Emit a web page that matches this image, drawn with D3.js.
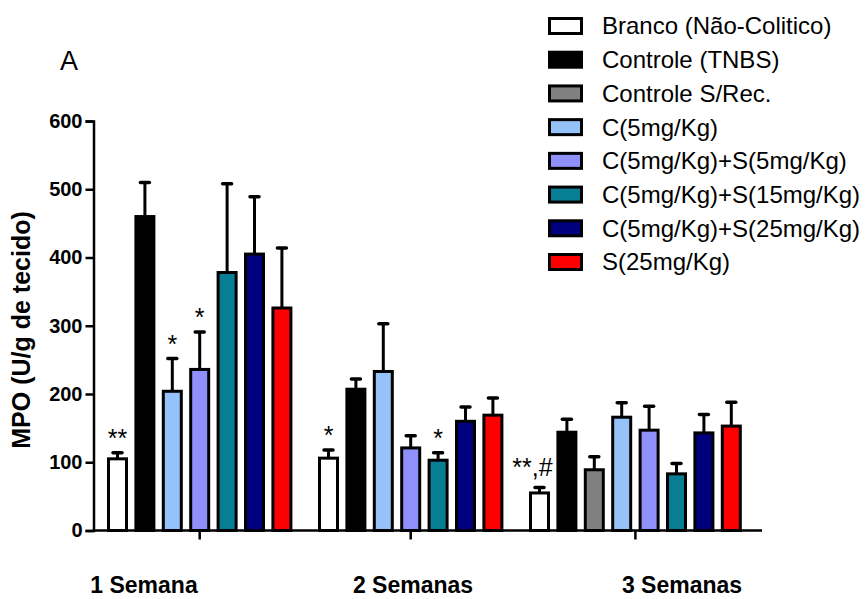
<!DOCTYPE html>
<html>
<head>
<meta charset="utf-8">
<script src="https://cdn.jsdelivr.net/npm/d3@7"></script>
<style>
  html, body { margin: 0; padding: 0; background: #fff; }
  svg { display: block; font-family: "Liberation Sans", Arial, sans-serif; }
</style>
</head>
<body>
<svg id="chart" width="867" height="599"></svg>
<script>
// Weeks after induction
const groups = ["1 Semana", "2 Semanas", "3 Semanas"];

// Treatment series, in legend order
const series = [
  "Branco (Não-Colitico)",
  "Controle (TNBS)",
  "Controle S/Rec.",
  "C(5mg/Kg)",
  "C(5mg/Kg)+S(5mg/Kg)",
  "C(5mg/Kg)+S(15mg/Kg)",
  "C(5mg/Kg)+S(25mg/Kg)",
  "S(25mg/Kg)"
];
const colors = ["#ffffff", "#000000", "#808080", "#94c2f9", "#9090fd", "#087e95", "#00007e", "#ff0000"];

// MPO means (U/g de tecido) per week; null = group not measured
const mean1 = [105, 460, null, 204, 236, 378, 405, 326];
const mean2 = [106, 207, null, 233, 121, 103, 160, 169];
const mean3 = [55, 144, 89, 166, 147, 83, 143, 153];

// SEM per week
const err1 = [9, 50, null, 48, 55, 130, 84, 88];
const err2 = [12, 15, null, 70, 18, 11, 21, 25];
const err3 = [8, 19, 19, 21, 35, 15, 27, 35];

// Significance marks per week
const note1 = ["**", "", null, "*", "*", "", "", ""];
const note2 = ["*", "", null, "", "", "*", "", ""];
const note3 = ["**,#", "", "", "", "", "", "", ""];

const yTicks = [0, 100, 200, 300, 400, 500, 600];
const yTitle = "MPO (U/g de tecido)";
const panelLabel = "A";

const means = [mean1, mean2, mean3];
const errs = [err1, err2, err3];
const notes = [note1, note2, note3];

const svg = d3.select("#chart");
const font = '"Liberation Sans", Arial, sans-serif';

const y = d3.scaleLinear().domain([0, 600]).range([530.5, 121]);

// each week is a band; bars inside a week are packed into consecutive slots
const xGroup = d3.scaleBand().domain(groups).range([100, 733]).paddingInner(0);
const slot = d3.scaleBand().domain(d3.range(8)).range([8.5, 8.5 + 27.4 * (8 - 0.343)]).paddingInner(0.343).paddingOuter(0);

const bars = [];
groups.forEach((g, gi) => {
  let k = 0;
  series.forEach((s, si) => {
    const v = means[gi][si];
    if (v === null) return;
    bars.push({ group: g, gi, si, value: v, err: errs[gi][si], note: notes[gi][si], x: xGroup(g) + slot(k) });
    k++;
  });
});

// tick positions: centre of each week's bars
const tickPos = groups.map(g => {
  const b = bars.filter(d => d.group === g);
  return (b[0].x + b[b.length - 1].x) / 2 + slot.bandwidth() / 2;
});

// error bars (upper only)
const eb = svg.append("g");
bars.forEach(d => {
  const cx = d.x + slot.bandwidth() / 2;
  eb.append("line").attr("x1", cx).attr("x2", cx)
    .attr("y1", y(d.value)).attr("y2", y(d.value + d.err))
    .attr("stroke", "#000").attr("stroke-width", 3);
  eb.append("line").attr("x1", cx - 4.5).attr("x2", cx + 4.5)
    .attr("y1", y(d.value + d.err)).attr("y2", y(d.value + d.err))
    .attr("stroke", "#000").attr("stroke-width", 3.5).attr("stroke-linecap", "round");
});

// bars
svg.append("g").selectAll("rect").data(bars).join("rect")
  .attr("x", d => d.x)
  .attr("width", slot.bandwidth())
  .attr("y", d => y(d.value))
  .attr("height", d => y(0) - y(d.value))
  .attr("fill", d => colors[d.si])
  .attr("stroke", "#000")
  .attr("stroke-width", 3);

// significance marks
svg.append("g").selectAll("text").data(bars.filter(d => d.note)).join("text")
  .attr("x", d => d.x + slot.bandwidth() / 2 + (d.note.length > 2 ? -7 : 0))
  .attr("y", d => y(d.value + d.err) - (d.note.length > 2 ? 12 : 6))
  .attr("text-anchor", "middle")
  .attr("font-family", font)
  .attr("font-size", 25)
  .attr("fill", "#000")
  .text(d => d.note);

// y axis
const yAxis = svg.append("g").attr("transform", "translate(93.5,0)")
  .call(d3.axisLeft(y).tickValues(yTicks).tickSize(8).tickPadding(3));
yAxis.select(".domain").attr("stroke-width", 2.5);
yAxis.selectAll(".tick line").attr("stroke-width", 2.5);
yAxis.selectAll(".tick text")
  .attr("font-family", font).attr("font-size", 20).attr("font-weight", "bold").attr("fill", "#000");

// x axis baseline with week ticks
const xAxisG = svg.append("g");
xAxisG.append("line").attr("x1", 93.5).attr("x2", 762).attr("y1", y(0)).attr("y2", y(0))
  .attr("stroke", "#000").attr("stroke-width", 2.5);
xAxisG.selectAll("line.tk").data(tickPos).join("line").attr("class", "tk")
  .attr("x1", d => d).attr("x2", d => d).attr("y1", y(0)).attr("y2", y(0) + 9)
  .attr("stroke", "#000").attr("stroke-width", 2.5);

// week labels, spread under the axis
const xLab = d3.scalePoint().domain(groups).range([144, 682]);
svg.append("g").selectAll("text").data(groups).join("text")
  .attr("x", d => xLab(d)).attr("y", 593)
  .attr("text-anchor", "middle")
  .attr("font-family", font).attr("font-size", 23).attr("font-weight", "bold")
  .text(d => d);

// y title
svg.append("text")
  .attr("transform", "translate(30,330) rotate(-90)")
  .attr("text-anchor", "middle")
  .attr("font-family", font).attr("font-size", 25).attr("font-weight", "bold")
  .text(yTitle);

// panel label
svg.append("text").attr("x", 60).attr("y", 70)
  .attr("font-family", font).attr("font-size", 27).text(panelLabel);

// legend
const legY = d3.scalePoint().domain(series).range([26, 262]);
const leg = svg.append("g");
leg.selectAll("rect").data(series).join("rect")
  .attr("x", 549.5).attr("y", d => legY(d) - 7.5).attr("width", 32).attr("height", 15)
  .attr("fill", (d, i) => colors[i]).attr("stroke", "#000").attr("stroke-width", 3);
leg.selectAll("text").data(series).join("text")
  .attr("x", 602).attr("y", d => legY(d)).attr("dy", "0.35em")
  .attr("font-family", font).attr("font-size", 24)
  .text(d => d);
</script>
</body>
</html>
